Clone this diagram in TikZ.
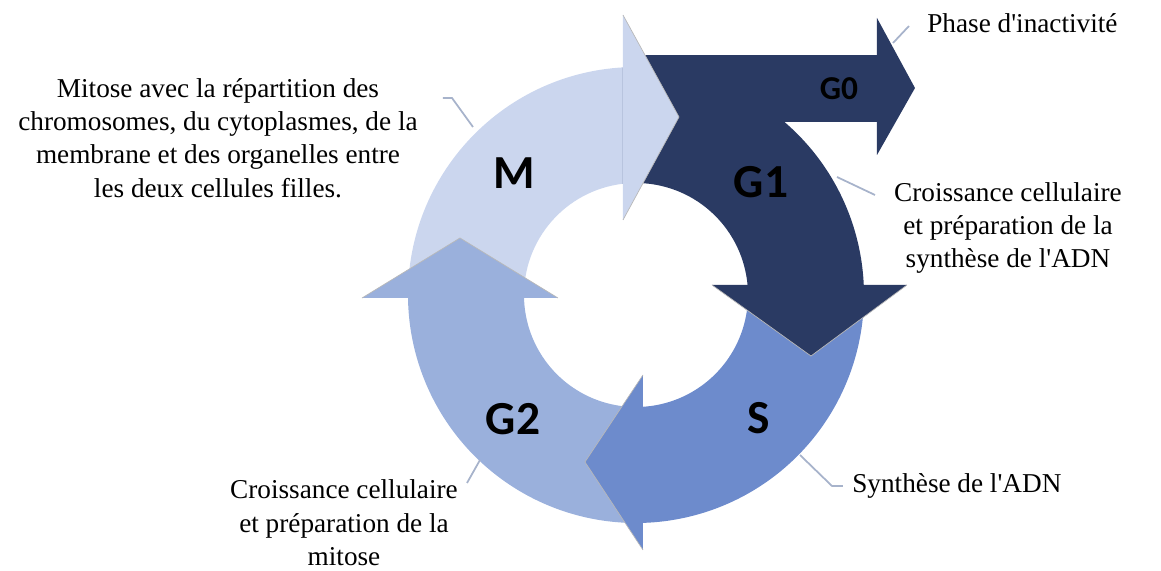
\documentclass[tikz,border=0pt]{standalone}
\usepackage{fontspec}
\setmainfont{Liberation Serif}
\newfontfamily\phasefont{Carlito}
\usepackage{tikz}
\usetikzlibrary{positioning}
\definecolor{mblue}{HTML}{CBD6EE}
\definecolor{gonenavy}{HTML}{2A3A63}
\definecolor{sblue}{HTML}{6D8BCC}
\definecolor{gtwoblue}{HTML}{9AB0DC}
\definecolor{leadgray}{HTML}{A7B3CB}

\begin{document}
\begin{tikzpicture}[
    x=0.02cm, y=0.02cm,
    phase/.style={
        inner sep=0pt,
        font=\phasefont\bfseries\fontsize{27}{27}\selectfont
    },
    note/.style={
        inner sep=0pt,
        align=center,
        font=\rmfamily\fontsize{15.5}{19}\selectfont
    },
    headedge/.style={draw=gray!55, line width=0.4pt},
    lead/.style={draw=leadgray, line width=1pt}
]
\useasboundingbox (-636,-276) rectangle (525,295);

% Ring segments
\fill[mblue] (180.75:228) arc[start angle=180.75, end angle=93.27, radius=228]
    -- (96.67:112) arc[start angle=96.67, end angle=181.53, radius=112] -- cycle;
\fill[gonenavy] (93.27:228) arc[start angle=93.27, end angle=2.51, radius=228]
    -- (5.12:112) arc[start angle=5.12, end angle=96.67, radius=112] -- cycle;
\fill[gonenavy] (-13,173) rectangle (241,240);
\fill[sblue] (2.51:228) arc[start angle=2.51, end angle=-88.24, radius=228]
    -- (-86.42:112) arc[start angle=-86.42, end angle=5.12, radius=112] -- cycle;
\fill[gtwoblue] (-88.24:228) arc[start angle=-88.24, end angle=-179.25, radius=228]
    -- (-178.47:112) arc[start angle=-178.47, end angle=-86.42, radius=112] -- cycle;

% Arrow heads
\fill[mblue] (-13,280) -- (43,178) -- (-13,75) -- cycle;
\draw[headedge] (-13,280) -- (43,178) -- (-13,75);
\fill[gonenavy] (271,10) -- (175,-61) -- (76,10) -- cycle;
\draw[headedge] (271,10) -- (175,-61) -- (76,10);
\fill[gonenavy] (241,277) -- (279,207) -- (241,140) -- cycle;
\fill[sblue] (7,-80) -- (-51,-167) -- (7,-255) -- cycle;
\draw[headedge] (7,-80) -- (-51,-167) -- (7,-255);
\fill[gtwoblue] (-78,-3) -- (-176,57) -- (-274,-3) -- cycle;
\draw[headedge] (-78,-3) -- (-176,57) -- (-274,-3);

% Phase names
\node[phase] (m) at (-122,122) {M};
\node[phase] (g1) at (125,113) {G1};
\node[phase, font=\phasefont\bfseries\fontsize{19}{19}\selectfont] (g0) at (203,206) {G0};
\node[phase] (s) at (123,-123) {S};
\node[phase] (g2) at (-123,-124) {G2};

% Descriptions
\node[note, anchor=base west] (inactive) at (291,262) {Phase d\textquotesingle inactivité};
\node[note] (g1note) at (372,67) {
Croissance cellulaire\\
et préparation de la\\
synthèse de l\textquotesingle ADN
};
\node[note, anchor=base west] (snote) at (216,-198) {Synthèse de l\textquotesingle ADN};
\node[note] (g2note) at (-292,-228) {
Croissance cellulaire\\
et préparation de la\\
mitose
};
\node[note] (mnote) at (-418,157) {
Mitose avec la répartition des\\
chromosomes, du cytoplasmes, de la\\
membrane et des organelles entre\\
les deux cellules filles.
};

% Leader lines
\coordinate (g0edge) at (257,252);
\coordinate (g0tail) at (273,269);
\coordinate (g1edge) at (201,118);
\coordinate (g1tail) at (239,100);
\coordinate (sedge) at (164,-160);
\coordinate (sbend) at (196,-191);
\coordinate (stail) at (207,-191);
\coordinate (g2edge) at (-156,-165);
\coordinate (g2tail) at (-169,-188);
\coordinate (medge) at (-163,168);
\coordinate (mbend) at (-184,197);
\coordinate (mtail) at (-193,197);

\draw[lead] (g0edge) -- (g0tail);
\draw[lead] (g1edge) -- (g1tail);
\draw[lead] (sedge) -- (sbend) -- (stail);
\draw[lead] (g2edge) -- (g2tail);
\draw[lead] (medge) -- (mbend) -- (mtail);

\end{tikzpicture}
\end{document}
